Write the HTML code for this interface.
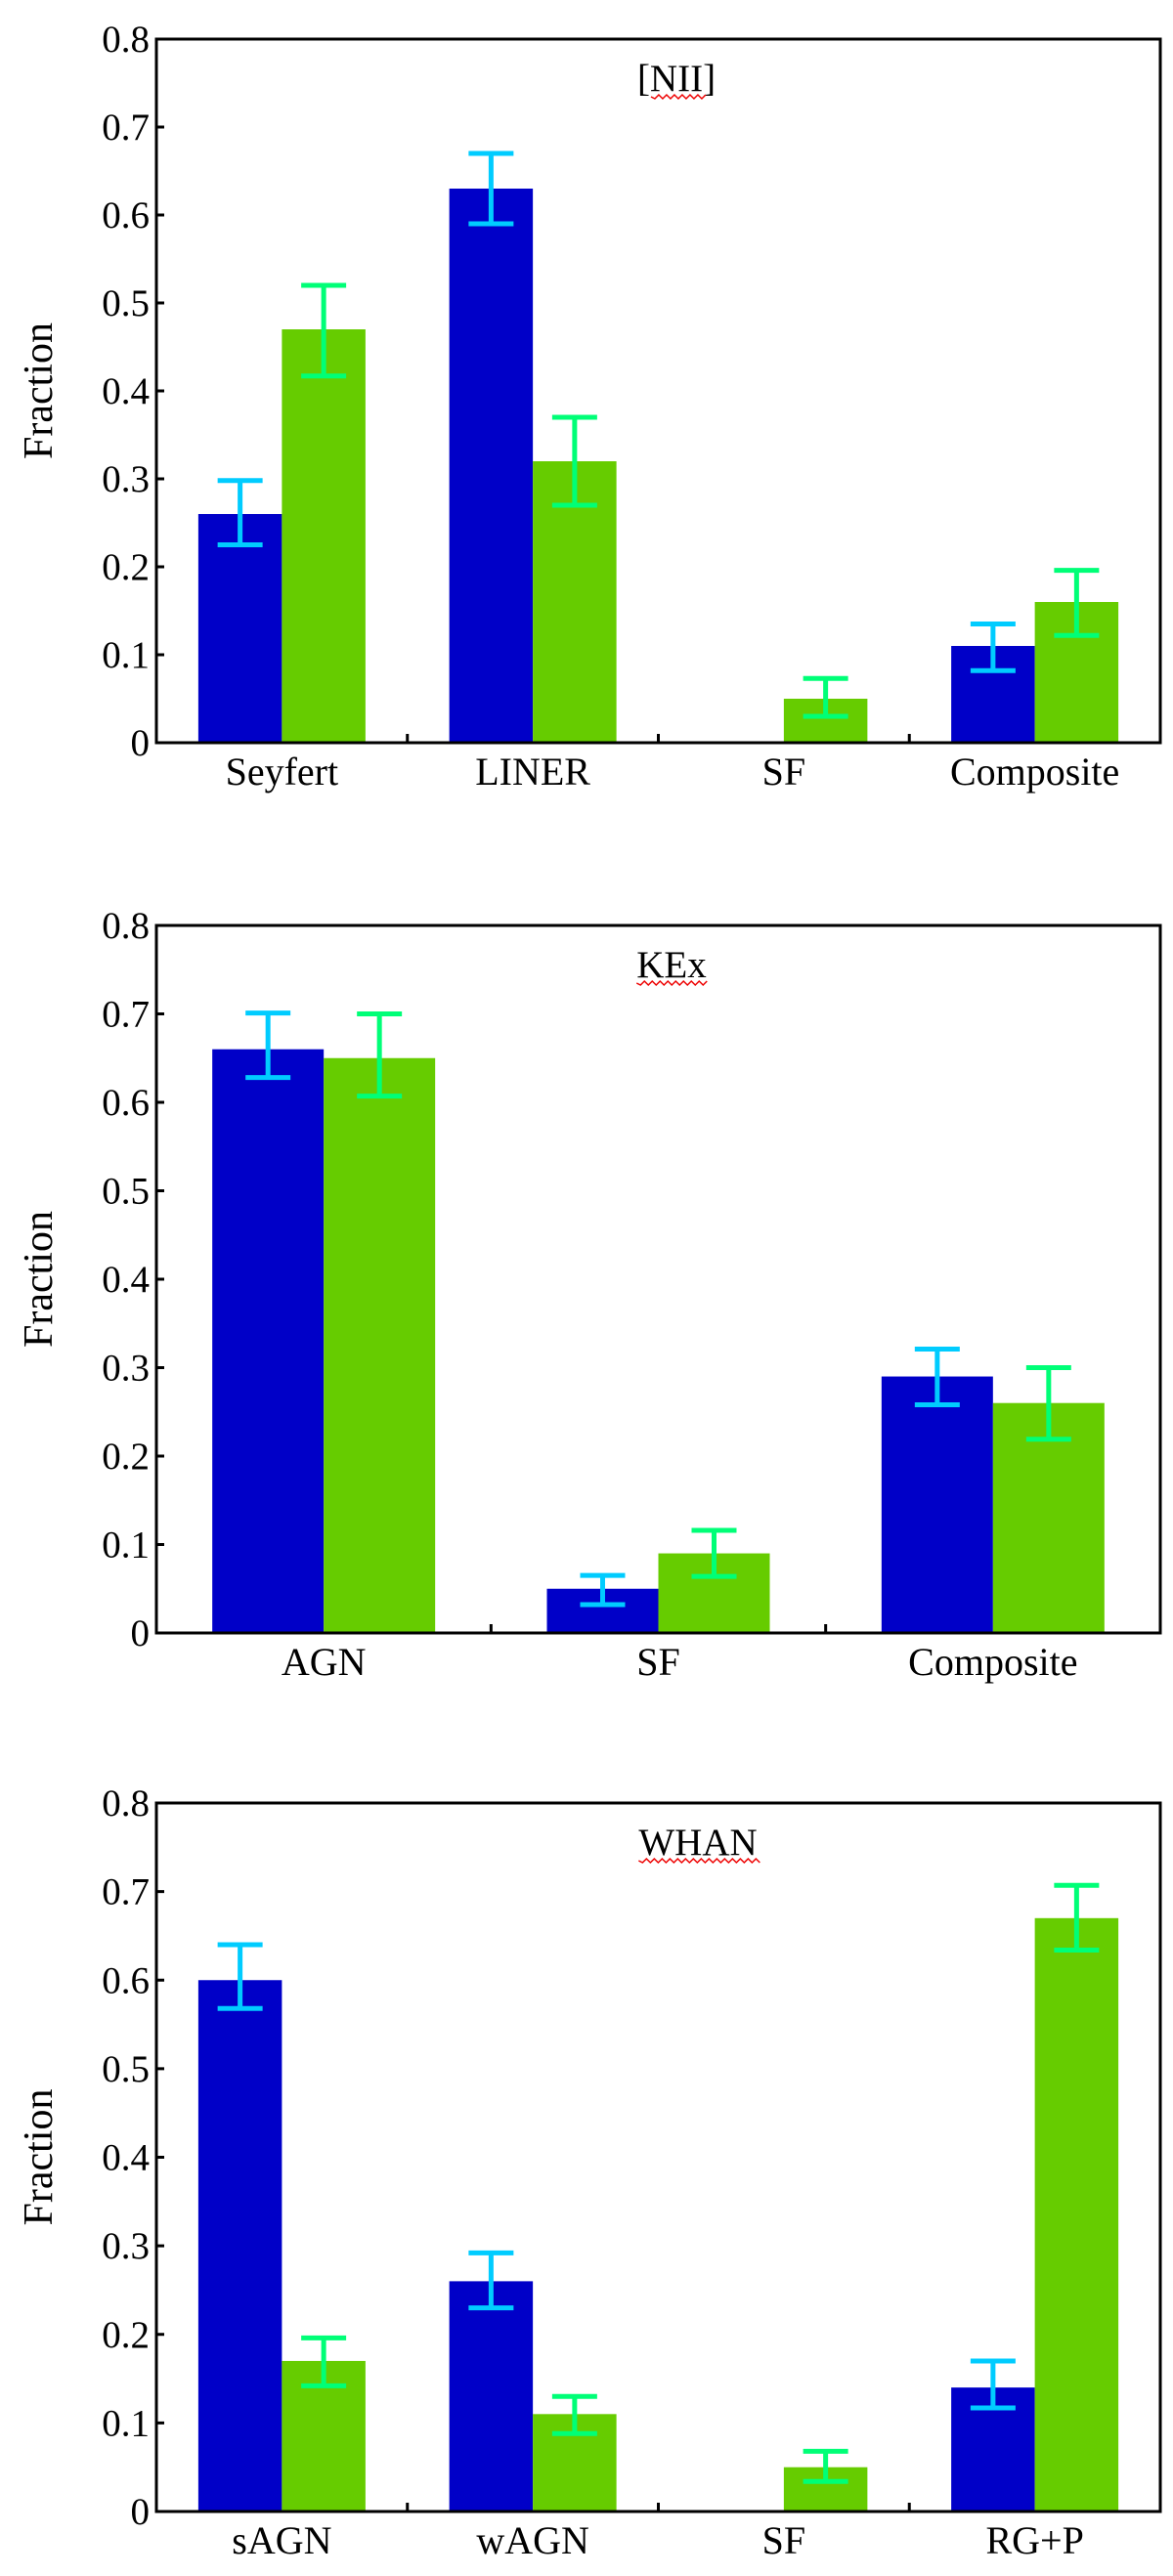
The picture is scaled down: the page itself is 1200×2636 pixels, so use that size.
<!DOCTYPE html>
<html><head><meta charset="utf-8"><style>
html,body{margin:0;padding:0;background:#fff}
svg{display:block}
text{font-family:"Liberation Serif",serif;fill:#000}
</style></head><body>
<svg id="fig" width="1200" height="2636" viewBox="0 0 1200 2636" xmlns="http://www.w3.org/2000/svg"></svg>
<script>
const niiCategories = ["Seyfert","LINER","SF","Composite"];
const niiBlue = [0.26,0.63,0,0.11];
const niiGreen = [0.47,0.32,0.05,0.16];
const niiBlueLo = [0.225,0.59,null,0.082];
const niiBlueHi = [0.298,0.67,null,0.135];
const niiGreenLo = [0.417,0.27,0.03,0.122];
const niiGreenHi = [0.52,0.37,0.073,0.196];

const kexCategories = ["AGN","SF","Composite"];
const kexBlue = [0.66,0.05,0.29];
const kexGreen = [0.65,0.09,0.26];
const kexBlueLo = [0.628,0.032,0.258];
const kexBlueHi = [0.701,0.065,0.321];
const kexGreenLo = [0.607,0.064,0.219];
const kexGreenHi = [0.70,0.116,0.30];

const whanCategories = ["sAGN","wAGN","SF","RG+P"];
const whanBlue = [0.60,0.26,0,0.14];
const whanGreen = [0.17,0.11,0.05,0.67];
const whanBlueLo = [0.568,0.23,null,0.117];
const whanBlueHi = [0.64,0.292,null,0.17];
const whanGreenLo = [0.142,0.088,0.034,0.634];
const whanGreenHi = [0.196,0.13,0.068,0.707];

const yTicks = ["0","0.1","0.2","0.3","0.4","0.5","0.6","0.7","0.8"];

const NS = "http://www.w3.org/2000/svg";
const fig = document.getElementById('fig');
function mk(tag, attrs, parent){
  const e = document.createElementNS(NS, tag);
  for (const k in attrs) e.setAttribute(k, attrs[k]);
  (parent||fig).appendChild(e);
  return e;
}

function drawChart(id, title, titleX, top, bottom, cats, blue, green, bLo, bHi, gLo, gHi){
  const left = 160, right = 1187;
  const g = mk('g', {});
  
  
  const yScale = v => bottom - (v / 0.8) * (bottom - top);
  const groupW = (right - left) / cats.length;
  const xCenter = i => left + groupW * (i + 0.5);
  const barW = groupW * 0.333;

  cats.forEach((c, i) => {
    const bx = xCenter(i) - barW;
    if (blue[i] > 0) {
      const r = mk('rect', {x: bx, y: yScale(blue[i]), width: barW, height: bottom - yScale(blue[i]), fill: '#0000c8'}, g);
      
      
    }
    if (green[i] > 0) {
      const r = mk('rect', {x: xCenter(i), y: yScale(green[i]), width: barW, height: bottom - yScale(green[i]), fill: '#66cc00'}, g);
      
      
    }
  });
  function err(cx, lo, hi, col, name){
    if (lo === null || hi === null) return;
    const eg = mk('g', {stroke: col, 'stroke-width': 5, fill: 'none'}, g);
    
    
    mk('line', {x1: cx, x2: cx, y1: yScale(lo), y2: yScale(hi)}, eg);
    mk('line', {x1: cx-23, x2: cx+23, y1: yScale(lo), y2: yScale(lo)}, eg);
    mk('line', {x1: cx-23, x2: cx+23, y1: yScale(hi), y2: yScale(hi)}, eg);
  }
  cats.forEach((c, i) => {
    err(xCenter(i) - barW/2, bLo[i], bHi[i], '#00ccff', id + '-error-blue-' + i);
    err(xCenter(i) + barW/2, gLo[i], gHi[i], '#00ff77', id + '-error-green-' + i);
  });
  const fr = mk('rect', {x: left, y: top, width: right-left, height: bottom-top, fill: 'none', stroke: '#000', 'stroke-width': 3}, g);
  
  
  yTicks.forEach((t, k) => {
    const v = parseFloat(t);
    const y = yScale(v);
    if (k > 0 && k < yTicks.length - 1) mk('line', {x1: left, x2: left+8, y1: y, y2: y, stroke: '#000', 'stroke-width': 3}, g);
    const tx = mk('text', {x: 153, y: y + 13, 'font-size': 39, 'text-anchor': 'end'}, g);
    tx.textContent = t;
    
    
  });
  cats.forEach((c, i) => {
    if (i > 0) mk('line', {x1: left + groupW*i, x2: left + groupW*i, y1: bottom, y2: bottom-9, stroke: '#000', 'stroke-width': 3}, g);
    const tx = mk('text', {x: xCenter(i), y: bottom + 43, 'font-size': 40, 'text-anchor': 'middle'}, g);
    tx.textContent = c;
    
    
  });
  const cy = (top + bottom) / 2;
  const yt = mk('text', {x: 0, y: 0, 'font-size': 42, 'text-anchor': 'middle', transform: 'translate(53,' + cy + ') rotate(-90)'}, g);
  yt.textContent = 'Fraction';
  
  
  const tt = mk('text', {x: titleX, y: top + 53, 'font-size': 39, 'text-anchor': 'middle'}, g);
  tt.textContent = title;
  
  
  const tw = tt.getComputedTextLength ? tt.getComputedTextLength() : 60;
  const pad = title[0]==='[' ? 14 : 0;
  const x0 = titleX - tw/2 + pad, x1 = titleX + tw/2 - pad;
  let d = 'M' + x0 + ' ' + (top+59);
  for (let x = x0, s = 1; x < x1; x += 4, s = -s) d += ' L' + (x+4) + ' ' + (top + 59 + s*2);
  const wv = mk('path', {d: d, stroke: '#e00', 'stroke-width': 1.5, fill: 'none'}, g);
  
  
}

drawChart('nii', '[NII]', 692, 40, 760, niiCategories, niiBlue, niiGreen, niiBlueLo, niiBlueHi, niiGreenLo, niiGreenHi);
drawChart('kex', 'KEx', 687, 947, 1671, kexCategories, kexBlue, kexGreen, kexBlueLo, kexBlueHi, kexGreenLo, kexGreenHi);
drawChart('whan', 'WHAN', 714, 1845, 2570, whanCategories, whanBlue, whanGreen, whanBlueLo, whanBlueHi, whanGreenLo, whanGreenHi);
</script>
</body></html>
